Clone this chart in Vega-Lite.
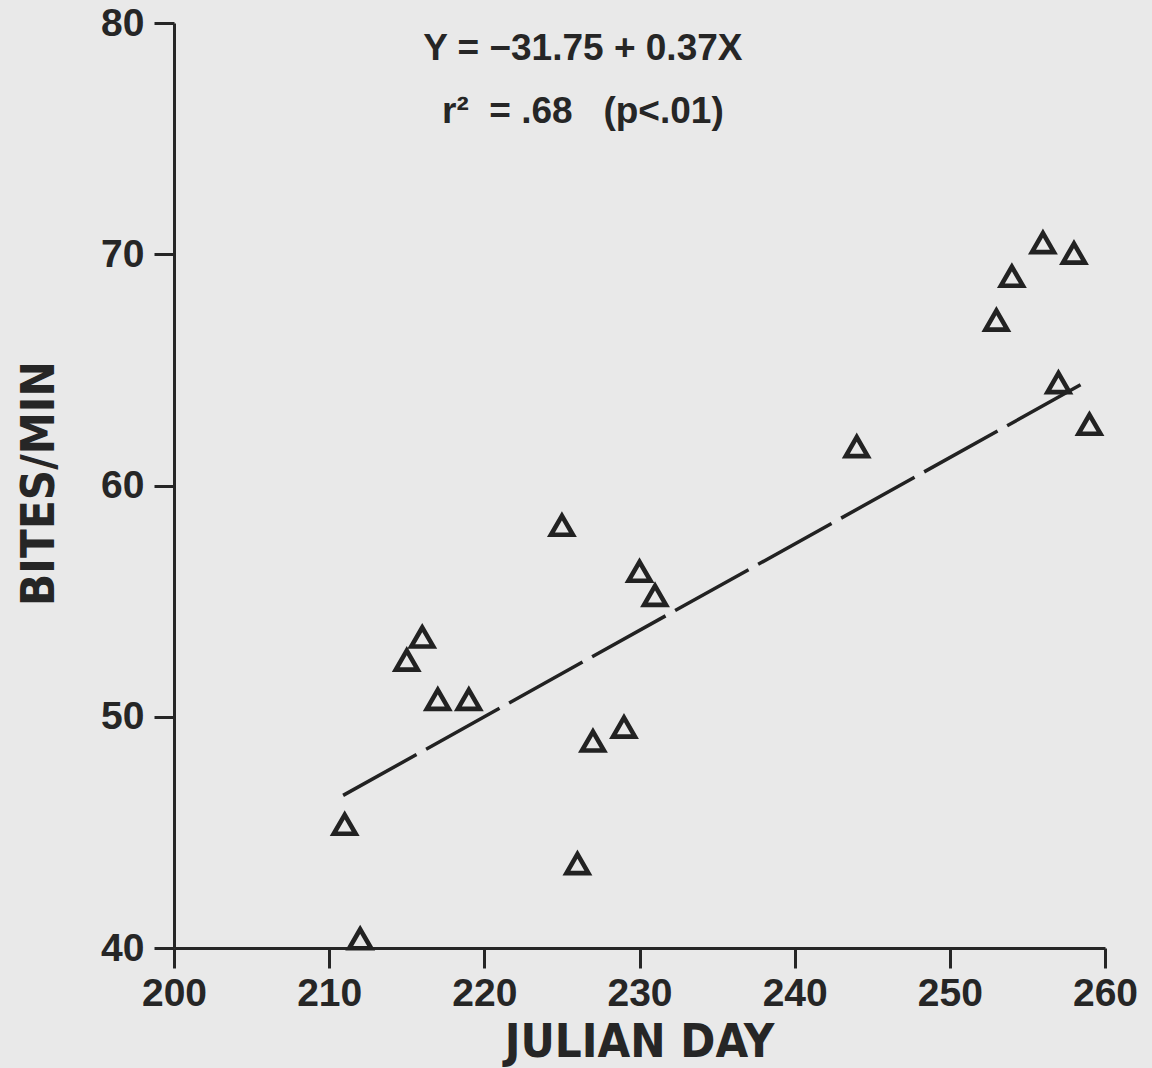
{
  "$schema": "https://vega.github.io/schema/vega-lite/v6.json",
  "width": 931,
  "height": 925,
  "autosize": {"type": "none"},
  "padding": {"left": 174, "top": 23, "right": 47, "bottom": 120},
  "background": "#e9e9e9",
  "config": {
    "view": {"stroke": null},
    "axis": {
      "grid": false,
      "labelFlush": false,
      "labelOverlap": false,
      "domainColor": "#262626",
      "domainWidth": 3,
      "tickColor": "#262626",
      "tickWidth": 3,
      "tickSize": 20,
      "labelFont": "Liberation Sans",
      "labelFontWeight": "bold",
      "labelFontSize": 39,
      "labelColor": "#262626",
      "titleFont": "DejaVu Sans Condensed, Liberation Sans, sans-serif",
      "titleFontWeight": "bold",
      "titleFontSize": 47,
      "titleColor": "#262626"
    }
  },
  "layer": [
    {
      "data": {"values": [
        {"day": 211, "bites": 45.35},
        {"day": 212, "bites": 40.4},
        {"day": 215, "bites": 52.45},
        {"day": 216, "bites": 53.45},
        {"day": 217, "bites": 50.75},
        {"day": 219, "bites": 50.75},
        {"day": 225, "bites": 58.28},
        {"day": 226, "bites": 43.65},
        {"day": 227, "bites": 48.95},
        {"day": 229, "bites": 49.55},
        {"day": 230, "bites": 56.29},
        {"day": 231, "bites": 55.25},
        {"day": 244, "bites": 61.68},
        {"day": 253, "bites": 67.15},
        {"day": 254, "bites": 69.05},
        {"day": 256, "bites": 70.5},
        {"day": 258, "bites": 70.05},
        {"day": 257, "bites": 64.45},
        {"day": 259, "bites": 62.65}
      ]},
      "mark": {"type": "point", "shape": "triangle-up", "size": 480, "strokeWidth": 4.6, "filled": false, "color": "#222222", "opacity": 1},
      "encoding": {
        "x": {"field": "day", "type": "quantitative",
              "scale": {"domain": [200, 260], "nice": false, "zero": false},
              "axis": {"values": [200, 210, 220, 230, 240, 250, 260], "title": "JULIAN DAY",
                       "labelPadding": 6, "titleBaseline": "alphabetic", "titleY": 108, "titleX": 465}},
        "y": {"field": "bites", "type": "quantitative",
              "scale": {"domain": [40, 80], "nice": false, "zero": false},
              "axis": {"values": [40, 50, 60, 70, 80], "title": "BITES/MIN",
                       "labelPadding": 10, "titleBaseline": "alphabetic", "titleX": -121, "titleY": 460}}
      }
    },
    {
      "data": {"values": [
        {"day": 210.9, "bites": 46.6},
        {"day": 258.55, "bites": 64.4}
      ]},
      "mark": {"type": "line", "color": "#222222", "strokeWidth": 3.5, "strokeDash": [84, 11]},
      "encoding": {
        "x": {"field": "day", "type": "quantitative"},
        "y": {"field": "bites", "type": "quantitative"}
      }
    },
    {
      "data": {"values": [
        {"day": 226.35, "bites": 78.4, "label": "Y = −31.75 + 0.37X"},
        {"day": 226.35, "bites": 75.68, "label": "r²\u00a0\u00a0=\u00a0.68\u00a0\u00a0\u00a0(p<.01)"}
      ]},
      "mark": {"type": "text", "font": "Liberation Sans", "fontWeight": "bold", "fontSize": 37, "color": "#262626", "align": "center", "baseline": "alphabetic"},
      "encoding": {
        "x": {"field": "day", "type": "quantitative"},
        "y": {"field": "bites", "type": "quantitative"},
        "text": {"field": "label"}
      }
    }
  ]
}
